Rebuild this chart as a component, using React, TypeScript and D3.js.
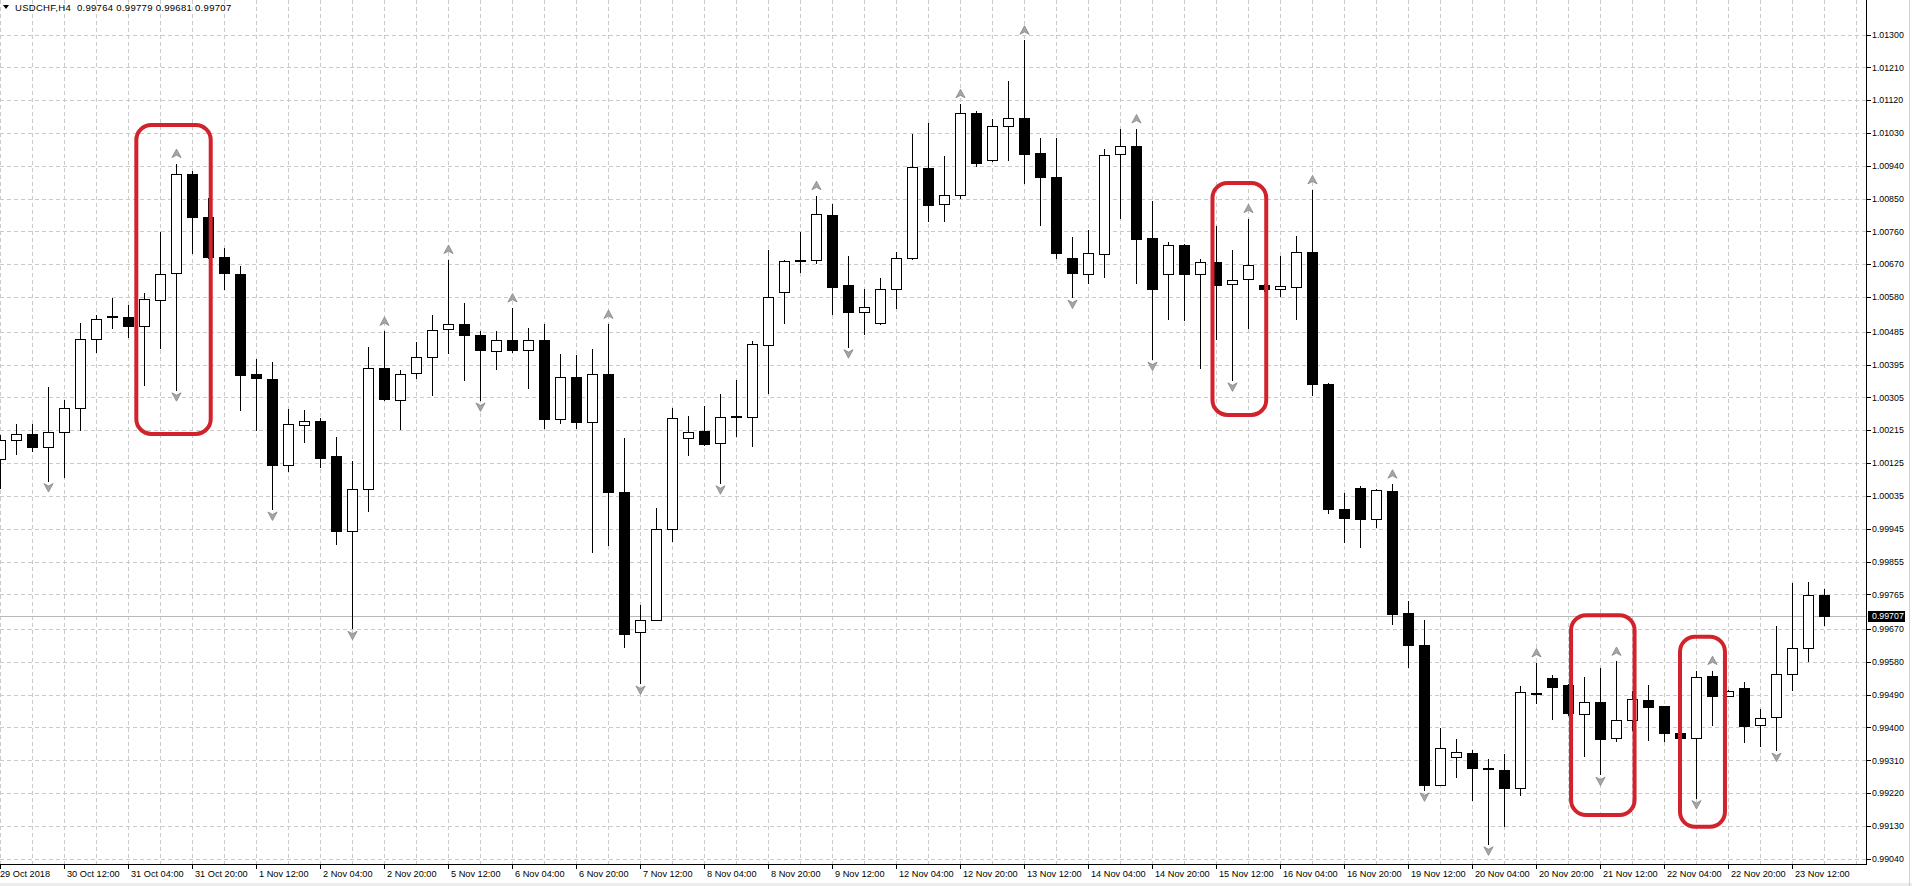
import React from 'react';
import * as d3 from 'd3';

// ---- data (USDCHF H4, bars indexed 0..114, 29 Oct 20:00 .. 23 Nov 20:00) ----
const openPrices = [
  1.00136, 1.00189, 1.00206, 1.00168, 1.00211, 1.00277, 1.00466, 1.00527, 1.00526, 1.00501,
  1.00572, 1.00645, 1.00918, 1.00801, 1.00689, 1.00643, 1.00370, 1.00356, 1.00119, 1.00228,
  1.00241, 1.00144, 0.99938, 1.00055, 1.00385, 1.00299, 1.00373, 1.00416, 1.00492, 1.00506,
  1.00477, 1.00432, 1.00462, 1.00435, 1.00462, 1.00247, 1.00362, 1.00238, 1.00369, 1.00045,
  0.99661, 0.99694, 0.99944, 1.00193, 1.00213, 1.00179, 1.00253, 1.00252, 1.00450, 1.00593,
  1.00683, 1.00682, 1.00806, 1.00614, 1.00539, 1.00508, 1.00601, 1.00687, 1.00934, 1.00835,
  1.00860, 1.01085, 1.00956, 1.01050, 1.01070, 1.00974, 1.00910, 1.00688, 1.00643, 1.00698,
  1.00973, 1.00995, 1.00741, 1.00643, 1.00722, 1.00643, 1.00675, 1.00617, 1.00629, 1.00612,
  1.00601, 1.00609, 1.00703, 1.00342, 1.00000, 1.00058, 0.99972, 1.00048, 0.99714, 0.99627,
  0.99242, 0.99318, 0.99330, 0.99290, 0.99283, 0.99233, 0.99493, 0.99536, 0.99516, 0.99437,
  0.99470, 0.99372, 0.99421, 0.99476, 0.99458, 0.99385, 0.99370, 0.99540, 0.99487, 0.99507,
  0.99407, 0.99430, 0.99547, 0.99619, 0.99764,
];
const highPrices = [
  1.00202, 1.00231, 1.00233, 1.00333, 1.00298, 1.00509, 1.00531, 1.00577, 1.00558, 1.00591,
  1.00758, 1.00946, 1.00925, 1.00853, 1.00716, 1.00664, 1.00411, 1.00402, 1.00274, 1.00271,
  1.00248, 1.00197, 1.00130, 1.00443, 1.00486, 1.00381, 1.00458, 1.00531, 1.00683, 1.00563,
  1.00486, 1.00486, 1.00550, 1.00495, 1.00507, 1.00425, 1.00420, 1.00439, 1.00505, 1.00193,
  0.99735, 1.00002, 1.00276, 1.00253, 1.00282, 1.00313, 1.00353, 1.00460, 1.00708, 1.00683,
  1.00758, 1.00858, 1.00836, 1.00693, 1.00603, 1.00633, 1.00703, 1.01028, 1.01058, 1.00967,
  1.01110, 1.01091, 1.01069, 1.01172, 1.01284, 1.01016, 1.01015, 1.00744, 1.00764, 1.00985,
  1.01041, 1.01041, 1.00844, 1.00731, 1.00726, 1.00684, 1.00774, 1.00710, 1.00795, 1.00615,
  1.00693, 1.00748, 1.00874, 1.00344, 1.00042, 1.00062, 1.00053, 1.00067, 0.99746, 0.99694,
  0.99398, 0.99369, 0.99338, 0.99314, 0.99327, 0.99513, 0.99577, 0.99544, 0.99519, 0.99538,
  0.99562, 0.99581, 0.99501, 0.99516, 0.99460, 0.99388, 0.99556, 0.99556, 0.99502, 0.99526,
  0.99451, 0.99677, 0.99796, 0.99798, 0.99779,
];
const lowPrices = [
  1.00058, 1.00150, 1.00158, 1.00077, 1.00087, 1.00217, 1.00429, 1.00496, 1.00472, 1.00339,
  1.00441, 1.00326, 1.00702, 1.00687, 1.00602, 1.00271, 1.00217, 0.99999, 1.00104, 1.00182,
  1.00113, 0.99902, 0.99672, 0.99994, 1.00299, 1.00219, 1.00357, 1.00312, 1.00428, 1.00354,
  1.00298, 1.00383, 1.00430, 1.00331, 1.00222, 1.00235, 1.00222, 0.99881, 0.99900, 0.99622,
  0.99522, 0.99694, 0.99911, 1.00146, 1.00175, 1.00071, 1.00200, 1.00171, 1.00317, 1.00510,
  1.00650, 1.00673, 1.00533, 1.00444, 1.00478, 1.00506, 1.00549, 1.00684, 1.00790, 1.00790,
  1.00853, 1.00940, 1.00952, 1.00957, 1.00894, 1.00779, 1.00687, 1.00580, 1.00620, 1.00634,
  1.00796, 1.00618, 1.00410, 1.00520, 1.00517, 1.00386, 1.00466, 1.00353, 1.00496, 1.00598,
  1.00584, 1.00520, 1.00311, 0.99988, 0.99909, 0.99895, 0.99949, 0.99685, 0.99565, 0.99229,
  0.99241, 0.99263, 0.99201, 0.99081, 0.99130, 0.99215, 0.99467, 0.99423, 0.99435, 0.99321,
  0.99272, 0.99362, 0.99392, 0.99367, 0.99362, 0.99368, 0.99208, 0.99408, 0.99485, 0.99359,
  0.99350, 0.99338, 0.99503, 0.99583, 0.99681,
];
const closePrices = [
  1.00189, 1.00206, 1.00168, 1.00211, 1.00277, 1.00466, 1.00520, 1.00525, 1.00500, 1.00574,
  1.00642, 1.00918, 1.00801, 1.00689, 1.00645, 1.00367, 1.00357, 1.00119, 1.00231, 1.00241,
  1.00140, 0.99938, 1.00055, 1.00386, 1.00301, 1.00369, 1.00416, 1.00489, 1.00506, 1.00476,
  1.00434, 1.00462, 1.00434, 1.00462, 1.00247, 1.00362, 1.00238, 1.00369, 1.00047, 0.99657,
  0.99694, 0.99944, 1.00249, 1.00210, 1.00177, 1.00252, 1.00251, 1.00451, 1.00581, 1.00679,
  1.00680, 1.00808, 1.00609, 1.00538, 1.00552, 1.00602, 1.00687, 1.00937, 1.00832, 1.00860,
  1.01085, 1.00949, 1.01050, 1.01071, 1.00971, 1.00909, 1.00700, 1.00647, 1.00701, 1.00969,
  1.00994, 1.00740, 1.00602, 1.00722, 1.00642, 1.00675, 1.00612, 1.00626, 1.00668, 1.00601,
  1.00610, 1.00703, 1.00343, 1.00000, 0.99974, 0.99972, 1.00050, 0.99711, 0.99625, 0.99241,
  0.99344, 0.99333, 0.99290, 0.99286, 0.99233, 0.99497, 0.99495, 0.99512, 0.99439, 0.99470,
  0.99368, 0.99421, 0.99478, 0.99456, 0.99384, 0.99370, 0.99539, 0.99486, 0.99500, 0.99403,
  0.99427, 0.99547, 0.99619, 0.99762, 0.99707,
];

const priceTicks = [
  1.013, 1.0121, 1.0112, 1.0103, 1.0094, 1.0085, 1.0076, 1.0067, 1.0058, 1.00485,
  1.00395, 1.00305, 1.00215, 1.00125, 1.00035, 0.99945, 0.99855, 0.99765, 0.9967, 0.9958,
  0.9949, 0.994, 0.9931, 0.9922, 0.9913, 0.9904,
];

// one label every 4 bars, starting at bar 0
const timeLabels = [
  '29 Oct 2018', '30 Oct 12:00', '31 Oct 04:00', '31 Oct 20:00', '1 Nov 12:00', '2 Nov 04:00',
  '2 Nov 20:00', '5 Nov 12:00', '6 Nov 04:00', '6 Nov 20:00', '7 Nov 12:00', '8 Nov 04:00',
  '8 Nov 20:00', '9 Nov 12:00', '12 Nov 04:00', '12 Nov 20:00', '13 Nov 12:00', '14 Nov 04:00',
  '14 Nov 20:00', '15 Nov 12:00', '16 Nov 04:00', '16 Nov 20:00', '19 Nov 12:00', '20 Nov 04:00',
  '20 Nov 20:00', '21 Nov 12:00', '22 Nov 04:00', '22 Nov 20:00', '23 Nov 12:00',
];

const upFractals = [11, 24, 28, 32, 38, 51, 60, 64, 71, 78, 82, 87, 96, 101, 107];
const downFractals = [3, 11, 17, 22, 30, 40, 45, 53, 67, 72, 77, 89, 93, 100, 106, 111];

const lastPrice = 0.99707;
const headerText = 'USDCHF,H4  0.99764 0.99779 0.99681 0.99707';

// red highlight boxes: bar-index span and price span
const highlightFrom = [8.52, 75.78, 98.19, 105.0];
const highlightTo = [13.17, 79.14, 102.16, 107.81];
const highlightTop = [1.01052, 1.00893, 0.99708, 0.99649];
const highlightBottom = [1.00205, 1.00257, 0.9916, 0.99128];

const W = 1912;
const H = 886;
const AXIS_X = 1866;
const AXIS_Y = 864;
const FONT = "'Liberation Sans', Arial, sans-serif";

export default function App() {
  const x = d3.scaleLinear().domain([0, 114]).range([0, 1824]);
  const y = d3.scaleLinear().domain([0.9904, 1.013]).range([858.8, 34.5]);

  const gridBars = d3.range(0, 117, 2);
  const up = 'M0,-4.5 L4.6,4 L0,1.6 L-4.6,4 Z';

  return (
    <svg
      width={W}
      height={H}
      style={{ position: 'absolute', left: 0, top: 0, display: 'block', background: '#fff' }}
      fontFamily={FONT}
    >
      <rect x={0} y={0} width={W} height={H} fill="#fff" />
      {/* grid */}
      <g stroke="#cacaca" strokeWidth={1} strokeDasharray="4,3" shapeRendering="crispEdges">
        {priceTicks.map((p, i) => (
          <line key={'h' + i} x1={0} x2={AXIS_X} y1={Math.round(y(p)) + 0.5} y2={Math.round(y(p)) + 0.5} />
        ))}
        {gridBars.map((b) => (
          <line key={'v' + b} x1={Math.round(x(b)) + 0.5} x2={Math.round(x(b)) + 0.5} y1={0} y2={AXIS_Y} />
        ))}
      </g>
      {/* bid line */}
      <line
        x1={0}
        x2={AXIS_X}
        y1={Math.round(y(lastPrice)) + 0.5}
        y2={Math.round(y(lastPrice)) + 0.5}
        stroke="#b8b8b8"
        shapeRendering="crispEdges"
      />
      {/* candles */}
      <g shapeRendering="crispEdges">
        {openPrices.map((o, i) => {
          const c = closePrices[i];
          const cx = Math.round(x(i));
          const yh = Math.round(y(highPrices[i]));
          const yl = Math.round(y(lowPrices[i]));
          const top = Math.round(y(Math.max(o, c)));
          const bot = Math.round(y(Math.min(o, c)));
          const bull = c > o;
          return (
            <g key={i}>
              <line x1={cx + 0.5} x2={cx + 0.5} y1={yh} y2={yl + 1} stroke="#000" />
              {bot - top < 1 ? (
                <line x1={cx - 5} x2={cx + 6} y1={top + 0.5} y2={top + 0.5} stroke="#000" strokeWidth={bull ? 1 : 2} />
              ) : (
                <rect
                  x={cx - 4.5}
                  y={top + 0.5}
                  width={10}
                  height={bot - top}
                  fill={bull ? '#fff' : '#000'}
                  stroke="#000"
                  strokeWidth={1}
                />
              )}
            </g>
          );
        })}
      </g>
      {/* fractal arrows */}
      <g fill="#a6a6a6" stroke="#7c7c7c" strokeWidth={0.7}>
        {upFractals.map((b) => (
          <path key={'u' + b} d={up} transform={`translate(${x(b) + 0.5},${y(highPrices[b]) - 10})`} />
        ))}
        {downFractals.map((b) => (
          <path
            key={'d' + b}
            d={up}
            transform={`translate(${x(b) + 0.5},${y(lowPrices[b]) + 7}) rotate(180)`}
          />
        ))}
      </g>
      {/* red highlight boxes */}
      <g fill="none" stroke="#d2232d" strokeWidth={4}>
        {highlightFrom.map((f, i) => (
          <rect
            key={'r' + i}
            x={x(f)}
            y={y(highlightTop[i])}
            width={x(highlightTo[i]) - x(f)}
            height={y(highlightBottom[i]) - y(highlightTop[i])}
            rx={15}
            ry={15}
          />
        ))}
      </g>
      {/* header */}
      <path d="M3,5 L9,5 L6,9 Z" fill="#000" />
      <text x={15} y={10.5} fontSize={9.5} letterSpacing={0.3} fill="#000" style={{ whiteSpace: 'pre' }}>
        {headerText}
      </text>
      {/* axes */}
      <g shapeRendering="crispEdges" stroke="#000">
        <line x1={AXIS_X + 0.5} x2={AXIS_X + 0.5} y1={0} y2={AXIS_Y + 1} />
        <line x1={0} x2={AXIS_X + 1} y1={AXIS_Y + 0.5} y2={AXIS_Y + 0.5} />
        {priceTicks.map((p, i) => (
          <line key={'pt' + i} x1={AXIS_X + 1} x2={AXIS_X + 5} y1={Math.round(y(p)) + 0.5} y2={Math.round(y(p)) + 0.5} />
        ))}
        {timeLabels.map((t, i) => (
          <line key={'tt' + i} x1={Math.round(x(i * 4)) + 0.5} x2={Math.round(x(i * 4)) + 0.5} y1={AXIS_Y} y2={AXIS_Y + 5} />
        ))}
      </g>
      <g fill="#000">
        {priceTicks.map((p, i) => (
          <text key={'pl' + i} x={AXIS_X + 6} y={y(p) + 3.2} fontSize={8.8}>
            {p.toFixed(5)}
          </text>
        ))}
        {timeLabels.map((t, i) => (
          <text key={'tl' + i} x={i === 0 ? 0 : x(i * 4) + 3} y={877} fontSize={9.2}>
            {t}
          </text>
        ))}
      </g>
      {/* bid label */}
      <rect x={AXIS_X + 2} y={Math.round(y(lastPrice)) - 5} width={37} height={11} fill="#000" />
      <text x={AXIS_X + 6} y={y(lastPrice) + 3.5} fontSize={8.8} fill="#fff">
        {lastPrice.toFixed(5)}
      </text>
      {/* bottom strip and right border */}
      <rect x={0} y={883} width={W} height={3} fill="#ececec" />
      <line x1={W - 2.5} x2={W - 2.5} y1={0} y2={H} stroke="#d0d0d0" />
    </svg>
  );
}
